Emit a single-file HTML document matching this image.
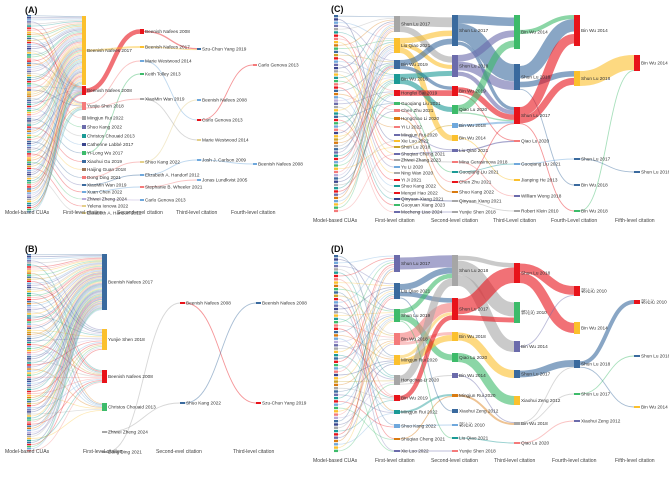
<!DOCTYPE html>
<html><head><meta charset="utf-8">
<style>
html,body{margin:0;padding:0;background:#fff;}
svg{display:block;font-family:"Liberation Sans","Noto Sans CJK SC",sans-serif;}
.nl{font-size:4.7px;fill:#333;}
.cl{font-size:5.1px;fill:#444;}
.tt{font-size:9px;font-weight:bold;fill:#111;}
</style></head>
<body>
<svg id="chart" width="669" height="480" viewBox="0 0 669 480"></svg>
<script>
// ---------- palette ----------
const PAL = {r:'#e8131a',y:'#fbc02d',b:'#3a6a9e',g:'#a6a6a6',p:'#6b6bab',t:'#1a9a96',n:'#3dbb6a',s:'#f47a7a',o:'#d97a0f',l:'#6fa8dc',v:'#3a448c',w:'#a0785a',k:'#c9a227',q:'#b8a9d9',e:'#e3cf8a'};
const cuaColorSeq = 'bvlpgtrsyonbkrlpvgytnsrbolqpgytbrnlsvykogbptrlnysqbvgtrpolyns';

// ---------- Panel A ----------
const A_cols = [27,82,140,197,253];
const A_labels = ['Beenish Nafees 2017','Beenish Nafees 2008','Yunjie Shen 2018','Mingjun Rui 2022','Shuo Kang 2022','Christos Chouaid 2013','Catherine Labbé 2017','Yi-Long Wu 2017','Xiaohui Gu 2019','Haijing Guan 2018','Dong Ding 2021','XiaoMin Wan 2019','Xuan Chen 2022','Zhiwei Zheng 2024','Yelena Ionova 2022','Elizabeth A. Handorf 2012',
 'Beenish Nafees 2008','Beenish Nafees 2017','Marie Westwood 2014','Keith Tolley 2013','XiaoMin Wan 2019','Shuo Kang 2022','Elizabeth A. Handorf 2012','Stephanie B. Wheeler 2021','Carlo Genova 2013',
 'Szu-Chun Yang 2019','Beenish Nafees 2008','Carlo Genova 2013','Marie Westwood 2014','Josh J. Carlson 2009','Jonas Lundkvist 2005','Carlo Genova 2013','Beenish Nafees 2008'];
const A_layout = [[1,16,85,'y'],[1,86,95,'r'],[1,102,110,'s'],[1,116,120,'g'],[1,125,129,'p'],[1,134,138,'t'],[1,143,146,'v'],[1,151,155,'n'],[1,160,163,'b'],[1,168,171,'w'],[1,176,179,'s'],[1,184,186,'b'],[1,191,193,'l'],[1,198,200,'q'],[1,205,207,'e'],[1,212,214,'e'],
 [2,29,34,'r'],[2,46,48,'y'],[2,60,62,'l'],[2,73,75,'n'],[2,98,100,'g'],[2,161,163,'e'],[2,174,176,'l'],[2,186,188,'s'],[2,199,201,'l'],
 [3,48,50,'b'],[3,99,101,'l'],[3,119,121,'r'],[3,139,141,'e'],[3,159,161,'l'],[3,179,181,'l'],[4,64,66,'s'],[4,163,165,'l']];
const A_cuaTargets = '0001002010020100012003010000120004102000501006000170008100901a00b01c002d01e000f01200102010020100';
const A_flows = [[1,16,3],[0,17,2],[2,18,1],[7,19,1],[2,20,1],[10,21,1],[11,22,1],[12,23,1],[13,24,1],[16,25,2],[17,25,1],[18,27,1],[20,28,1],[21,26,1],[22,29,1],[23,30,1],[27,31,1],[29,32,1]];

// ---------- Panel B ----------
const B_cols = [27,102,180,256];
const B_labels = ['Beenish Nafees 2017','Yunjie Shen 2018','Beenish Nafees 2008','Christos Chouaid 2013','Zhiwei Zheng 2024','Dong Ding 2021','Beenish Nafees 2008','Shuo Kang 2022','Beenish Nafees 2008','Szu-Chun Yang 2019'];
const B_layout = [[1,254,310,'b'],[1,329,350,'y'],[1,370,383,'r'],[1,403,411,'n'],[1,431,433,'g'],[1,451,453,'g'],[2,302,304,'r'],[2,402,404,'b'],[3,302,304,'b'],[3,402,404,'r']];
const B_cuaTargets = '0001020003010200100200030010201000300120001023000100201030002001000123000102003001020001003201002';
const B_flows = [[5,6,1],[4,7,1],[6,9,1],[7,8,1]];

// ---------- Panel C ----------
const C_cols = [334,394,452,514,574,634];
const C_labels = ['Shun Lu 2017','Liu Qiao 2021','Bin Wu 2019','Bin Wu 2018','Hongfei Cai 2019','Guoqiang Liu 2021','Chen Zhu 2021','Hongchao Li 2020','Yi Li 2022','Mingjun Rui 2020','Xie Luo 2022','Shun Lu 2018','Shuqiao Cheng 2021','Zhiwei Zhang 2023','Yu Li 2020','Ning Wan 2020','Yi Ji 2021','Shuo Kang 2022','Mengxi Hao 2022','Qinyuan Xiang 2021','Guoyuan Xiang 2023','Mocheng Liao 2024',
 'Shun Lu 2017','Shun Lu 2018','Bin Wu 2019','Qiao Lu 2020','Bin Wu 2018','Bin Wu 2014','Liu Qiao 2021','Mina Gerasimova 2018','Guoqiang Liu 2021','Chen Zhu 2021','Shuo Kang 2022','Qinyuan Xiang 2021','Yunjie Shen 2018',
 'Bin Wu 2014','Shun Lu 2018','Shun Lu 2017','Qiao Lu 2020','Guoqiang Liu 2021','Jianping He 2013','William Wong 2018','Robert Klein 2010',
 'Bin Wu 2014','Shun Lu 2018','Shun Lu 2017','Bin Wu 2018','Bin Wu 2018','Bin Wu 2014','Shun Lu 2016'];
const C_layout = [[1,16,32,'g'],[1,38,53,'y'],[1,60,69,'b'],[1,74,84,'t'],[1,90,96,'r'],[1,102,105,'n'],[1,109,112,'s'],[1,117,120,'o'],[1,126,128,'s'],[1,134,136,'p'],[1,140,142,'y'],[1,146,148,'k'],[1,153,155,'p'],[1,159,161,'g'],[1,166,168,'l'],[1,172,174,'g'],[1,179,181,'r'],[1,185,187,'t'],[1,192,194,'r'],[1,198,200,'v'],[1,204,206,'n'],[1,211,213,'p'],
 [2,15,46,'b'],[2,55,77,'p'],[2,86,96,'r'],[2,105,114,'n'],[2,123,128,'l'],[2,135,141,'y'],[2,149,152,'p'],[2,161,163,'s'],[2,171,173,'t'],[2,181,183,'r'],[2,191,193,'o'],[2,200,202,'g'],[2,211,213,'g'],
 [3,15,49,'n'],[3,64,90,'b'],[3,107,124,'r'],[3,140,142,'s'],[3,163,165,'l'],[3,179,181,'y'],[3,195,197,'p'],[3,210,212,'g'],
 [4,15,46,'r'],[4,71,86,'y'],[4,158,160,'b'],[4,184,186,'b'],[4,210,212,'n'],[5,55,71,'r'],[5,171,173,'b']];
const C_cuaTargets = '0a1203b4c0152d3e06f170g28h34i1j5k20l13041203214b0126a3510423c';
const C_flows = [[0,22,8],[0,23,5],[1,22,4],[1,27,4],[1,23,3],[2,22,5],[2,24,3],[3,23,4],[3,25,4],[4,24,4],[5,30,1],[6,31,1],[7,32,1],[9,28,1],[12,28,1],[13,29,1],[19,33,1],[21,34,1],[11,26,1],
 [22,35,8],[22,36,16],[22,37,5],[23,36,8],[23,35,6],[23,37,6],[24,37,8],[24,38,2],[25,35,6],[25,37,2],[26,37,3],[27,40,1],[28,38,3],[29,41,1],[30,39,1],[31,37,1],[33,42,1],
 [36,43,12],[36,44,6],[36,46,1],[37,43,14],[37,44,10],[37,47,1],[39,45,1],[35,43,4],[44,48,14],[45,49,1],[47,48,1]];

// ---------- Panel D ----------
const D_cols = [334,394,452,514,574,634];
const D_labels = ['Shun Lu 2017','Liu Qiao 2021','Shun Lu 2019','Bin Wu 2018','Mingjun Rui 2020','Hongchao Li 2020','Bin Wu 2019','Mingjun Rui 2022','Shuo Kang 2022','Shuqiao Cheng 2021','Xie Luo 2022',
 'Shun Lu 2018','Shun Lu 2017','Bin Wu 2018','Qiao Lu 2020','Bin Wu 2014','Mingjun Rui 2020','Xiaohui Zeng 2012','郭沁沁 2010','Liu Qiao 2021','Yunjie Shen 2018',
 'Shun Lu 2018','郭沁沁 2010','Bin Wu 2014','Shun Lu 2017','Xiaohui Zeng 2012','Bin Wu 2018','Qiao Lu 2020',
 '郭沁沁 2010','Bin Wu 2014','Shun Lu 2018','Shun Lu 2017','Xiaohui Zeng 2012','郭沁沁 2010','Shun Lu 2018','Bin Wu 2014'];
const D_layout = [[1,255,272,'p'],[1,283,299,'b'],[1,309,322,'n'],[1,333,345,'s'],[1,355,365,'y'],[1,375,385,'g'],[1,395,401,'r'],[1,410,414,'t'],[1,424,428,'l'],[1,438,440,'o'],[1,450,452,'p'],
 [2,255,286,'g'],[2,298,320,'r'],[2,332,341,'y'],[2,353,362,'n'],[2,373,378,'p'],[2,394,397,'o'],[2,409,413,'b'],[2,424,426,'l'],[2,437,439,'t'],[2,450,452,'s'],
 [3,263,283,'r'],[3,302,323,'n'],[3,341,352,'p'],[3,370,378,'b'],[3,396,405,'y'],[3,422,425,'g'],[3,442,444,'s'],
 [4,286,296,'r'],[4,322,334,'y'],[4,360,368,'b'],[4,393,395,'n'],[4,420,422,'p'],[5,300,304,'r'],[5,355,357,'b'],[5,406,408,'y']];
const D_cuaTargets = '420135061728390a14250361472531620a10425364718293150426130725';
const D_flows = [[0,11,8],[1,11,4],[1,12,3],[1,17,1],[2,11,3],[2,14,4],[3,12,6],[3,13,2],[4,13,4],[4,12,2],[5,11,5],[5,15,1],[6,12,3],[7,16,2],[8,18,1],[9,16,1],[10,20,1],[2,19,1],
 [11,21,4],[11,22,10],[11,23,8],[12,21,14],[12,22,4],[13,24,6],[14,25,6],[15,26,1],[16,26,2],[19,27,1],[21,28,8],[21,29,8],[24,30,6],[26,31,1],[26,30,1],[27,32,1],[23,28,1],[30,33,4],[30,35,1],[31,34,1]];

const panels = [
 {id:'a',title:'(A)',tx:25,ty:13,cols:A_cols,labels:A_labels,layout:A_layout,cua:A_cuaTargets,flows:A_flows,cuaTop:15,cuaBot:213,cw:4,nw:4,colTitles:['Model-based CUAs','First-level citation','Second-evel citation','Third-level citation','Fourth-level citation'],colTx:[5,63,117,176,231],colTy:214},
 {id:'b',title:'(B)',tx:25,ty:252,cols:B_cols,labels:B_labels,layout:B_layout,cua:B_cuaTargets,flows:B_flows,cuaTop:254,cuaBot:452,cw:4,nw:5,colTitles:['Model-based CUAs','First-level citation','Second-evel citation','Third-level citation'],colTx:[5,83,156,233],colTy:453},
 {id:'c',title:'(C)',tx:331,ty:12,cols:C_cols,labels:C_labels,layout:C_layout,cua:C_cuaTargets,flows:C_flows,cuaTop:15,cuaBot:213,cw:4,nw:6,colTitles:['Model-based CUAs','First-level citation','Second-level  citation','Third-Level citation','Fourth-Level  citation','Fifth-level citation'],colTx:[313,375,431,493,551,615],colTy:222},
 {id:'d',title:'(D)',tx:331,ty:252,cols:D_cols,labels:D_labels,layout:D_layout,cua:D_cuaTargets,flows:D_flows,cuaTop:255,cuaBot:453,cw:4,nw:6,colTitles:['Model-based CUAs','First-level citation','Second-level citation','Third-level citation','Fourth-level citation','Fifth-level citation'],colTx:[313,375,431,494,552,615],colTy:462}
];

const NS='http://www.w3.org/2000/svg';
const svg=document.getElementById('chart');
function mk(tag,attrs,parent){const e=document.createElementNS(NS,tag);for(const k in attrs)e.setAttribute(k,attrs[k]);(parent||svg).appendChild(e);return e;}

panels.forEach(P=>{
  const g=mk('g',{});
  
  
  const gl=mk('g',{},g), gn=mk('g',{},g), gt=mk('g',{},g);
  const nodes=[];
  const n=P.cua.length, step=(P.cuaBot-P.cuaTop)/n;
  for(let i=0;i<n;i++){
    const t=P.cuaTop+i*step;
    nodes.push({x:P.cols[0],w:P.cw,t:t,b:t+step*0.72,col:PAL[cuaColorSeq[i%cuaColorSeq.length]],cua:true,ins:[],outs:[]});
  }
  P.layout.forEach((L,i)=>nodes.push({x:P.cols[L[0]],w:P.nw,t:L[1],b:L[2],col:PAL[L[3]],label:P.labels[i],ins:[],outs:[]}));
  const links=[];
  for(let i=0;i<n;i++){const tgt=parseInt(P.cua[i],36);links.push({s:i,t:n+tgt,w:0.8,op:0.35,cua:true});}
  P.flows.forEach(f=>links.push({s:n+f[0],t:n+f[1],w:f[2],op:f[2]>2?0.6:0.45}));
  links.forEach(L=>{nodes[L.s].outs.push(L);nodes[L.t].ins.push(L);});
  const cy=nd=>(nd.t+nd.b)/2;
  nodes.forEach(nd=>{
    const place=(arr,key,other,sk)=>{
      arr.sort((a,b)=>cy(nodes[a[other]])-cy(nodes[b[other]]));
      const tot=arr.reduce((s,L)=>s+L.w,0);let cum=0;const h=Math.max(1,nd.b-nd.t);
      nd[sk]=h/tot;
      arr.forEach(L=>{L[key]=nd.t+(cum+L.w/2)/tot*h;cum+=L.w;});
    };
    place(nd.outs,'y1','t','so');place(nd.ins,'y2','s','si');
  });
  links.forEach(L=>{
    const s=nodes[L.s],t=nodes[L.t];
    const x1=s.x+s.w,x2=t.x,xm=(x1+x2)/2;
    let sw;
    if(L.cua) sw=0.8;
    else if(L.w<=1) sw=0.9;
    else sw=Math.max(0.9,Math.min(L.w*Math.min(s.so,t.si),L.w*1.5));
    const p=mk('path',{d:`M${x1},${L.y1} C${xm},${L.y1} ${xm},${L.y2} ${x2},${L.y2}`,fill:'none',stroke:s.col,'stroke-width':sw,'stroke-opacity':L.op},gl);
    
    
  });
  nodes.forEach(nd=>{
    const r=mk('rect',{x:nd.x,y:nd.t,width:nd.w,height:Math.max(1.2,nd.b-nd.t),fill:nd.col},gn);
    
    
    if(nd.label){
      const tx=mk('text',{x:nd.x+nd.w+1,y:cy(nd)+1.6,class:'nl'},gt);tx.textContent=nd.label;
      
      
    }
  });
  const ti=mk('text',{x:P.tx,y:P.ty,class:'tt'},gt);ti.textContent=P.title;
  
  
  P.colTitles.forEach((c,i)=>{
    const e=mk('text',{x:P.colTx[i],y:P.colTy,class:'cl'},gt);e.textContent=c;
    
    
  });
});
</script>
</body></html>
